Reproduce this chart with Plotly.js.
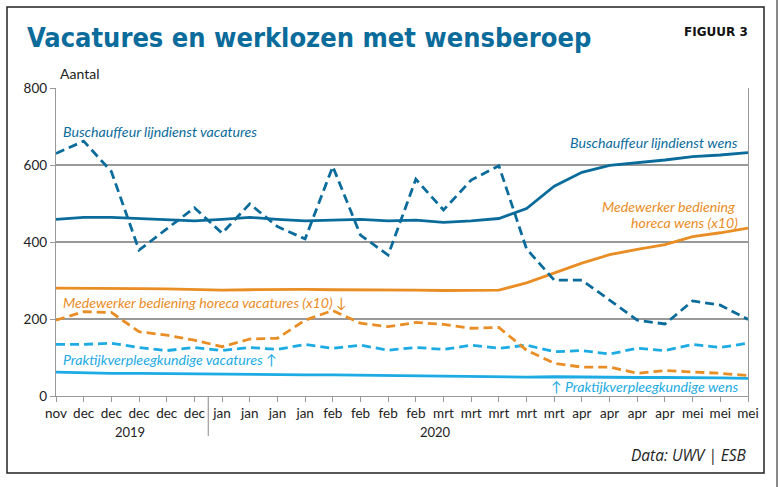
<!DOCTYPE html>
<html><head><meta charset="utf-8">
<script src="https://cdn.plot.ly/plotly-3.0.1.min.js"></script>
<style>html,body{margin:0;padding:0;background:#fff}#chart{width:780px;height:487px}</style>
</head><body><div id="chart"></div>
<script>
const weekLabels = ["nov","dec","dec","dec","dec","dec","jan","jan","jan","jan","feb","feb","feb","feb","mrt","mrt","mrt","mrt","mrt","apr","apr","apr","apr","mei","mei","mei"];
const busVacatures = [630,662,583,379,434,489,423,499,440,408,596,418,366,563,483,561,598,382,301,301,249,197,187,247,236,199];
const busWens = [459,464,464,461,459,455,459,464,459,455,457,459,455,457,451,455,461,487,545,581,599,606,613,622,626,632];
const horecaWens = [280,280,279,279,278,277,275,276,277,277,276,276,275,275,274,274,275,294,319,345,367,381,393,414,424,436];
const horecaVacatures = [197,219,217,167,158,145,128,148,150,197,222,189,180,191,186,176,178,119,85,75,75,59,66,63,59,53];
const pvkVacatures = [134,134,137,126,118,126,118,126,121,134,124,132,119,126,121,132,124,132,115,118,109,124,118,134,126,137];
const pvkWens = [62,60,59,59,58,57,57,56,55,55,55,54,53,53,52,50,49,49,50,49,49,48,48,48,47,46];

const DARK = "#0b6c9b", ORANGE = "#e98d25", LIGHT = "#1cabe3";
const xs = weekLabels.map((_, i) => i);

// pixel -> paper helpers for plot area 56..748 x 88..396
const L = 56, R = 748, T = 88, B = 396;
const px = x => (x - L) / (R - L);
const py = y => (B - y) / (B - T);

function line(y, color, dashed) {
  return {x: xs, y: y, type: "scatter", mode: "lines", hoverinfo: "skip",
    line: {color: color, width: 2.8, dash: dashed ? "9px,5px" : "solid", shape: "linear"}};
}
const data = [
  line(pvkWens, LIGHT, false),
  line(pvkVacatures, LIGHT, true),
  line(horecaVacatures, ORANGE, true),
  line(horecaWens, ORANGE, false),
  line(busVacatures, DARK, true),
  line(busWens, DARK, false)
];

const itf = (c, s) => ({family: "Lato, 'Open Sans', sans-serif", size: s || 14.2, color: c, style: "italic"});
const ann = (text, x, y, xa, font) => ({text: text, x: px(x), y: py(y), xref: "paper", yref: "paper", xanchor: xa, yanchor: "middle", showarrow: false, font: font});

const layout = {
  width: 780, height: 487,
  margin: {l: L, r: 780 - R, t: T, b: 487 - B, pad: 0},
  paper_bgcolor: "#fff", plot_bgcolor: "#fff",
  showlegend: false,
  font: {family: "Lato, sans-serif", size: 13, color: "#222"},
  xaxis: {range: [0, 25], tickvals: xs, ticktext: weekLabels, showgrid: false, zeroline: false,
    showline: true, linecolor: "#999", linewidth: 1.2, ticks: "outside", ticklen: 5, tickcolor: "#999",
    tickfont: {family: "Lato, sans-serif", size: 13.5, color: "#222"}, fixedrange: true},
  yaxis: {range: [0, 800], tickvals: [0, 200, 400, 600, 800], ticktext: ["0", "200", "400", "600", "800"],
    showgrid: true, gridcolor: "#999", gridwidth: 1.2, zeroline: false,
    showline: true, mirror: true, linecolor: "#999", linewidth: 1.2, ticks: "outside", ticklen: 5, tickcolor: "#999",
    tickfont: {family: "Lato, sans-serif", size: 13.5, color: "#222"}, fixedrange: true},
  shapes: [
    {type: "rect", xref: "paper", yref: "paper", x0: px(7), x1: px(764), y0: py(473), y1: py(7), line: {color: "#222", width: 1.5}},
    {type: "line", xref: "paper", yref: "paper", x0: px(777), x1: px(777), y0: py(487), y1: py(0), line: {color: "#888", width: 2}},
    {type: "line", xref: "x", yref: "paper", x0: 5.5, x1: 5.5, y0: 0, y1: py(436), line: {color: "#888", width: 1}}
  ],
  annotations: [
    {text: "Vacatures en werklozen met wensberoep", x: px(25), y: py(38), xref: "paper", yref: "paper", xanchor: "left", yanchor: "middle", showarrow: false,
      font: {family: "'DejaVu Sans Condensed', 'Liberation Sans Narrow', sans-serif", size: 27, color: DARK, weight: 700}},
    {text: "FIGUUR 3", x: px(750), y: py(32), xref: "paper", yref: "paper", xanchor: "right", yanchor: "middle", showarrow: false,
      font: {family: "'DejaVu Sans', sans-serif", size: 12, color: "#111", weight: 700}},
    ann("Aantal", 58, 73, "left", {family: "Lato, sans-serif", size: 14, color: "#222"}),
    ann("2019", 130, 432, "center", {family: "Lato, sans-serif", size: 13, color: "#222"}),
    ann("2020", 435, 432, "center", {family: "Lato, sans-serif", size: 13, color: "#222"}),
    ann("Data: UWV | ESB", 749, 455, "right", {family: "'Open Sans', sans-serif", size: 15.5, color: "#222", style: "italic"}),
    ann("Buschauffeur lijndienst vacatures", 61, 131, "left", itf(DARK)),
    ann("Buschauffeur lijndienst wens", 740, 142, "right", itf(DARK)),
    ann("Medewerker bediening", 737, 206, "right", itf(ORANGE)),
    ann("horeca wens (x10)", 740, 222, "right", itf(ORANGE)),
    ann("Medewerker bediening horeca vacatures (x10) \u2193", 61, 302, "left", itf(ORANGE)),
    ann("Praktijkverpleegkundige vacatures \u2191", 61, 359, "left", itf(LIGHT)),
    ann("\u2191 Praktijkverpleegkundige wens", 740, 386, "right", itf(LIGHT))
  ]
};
Plotly.newPlot("chart", data, layout, {displayModeBar: false, staticPlot: true});
</script></body></html>
